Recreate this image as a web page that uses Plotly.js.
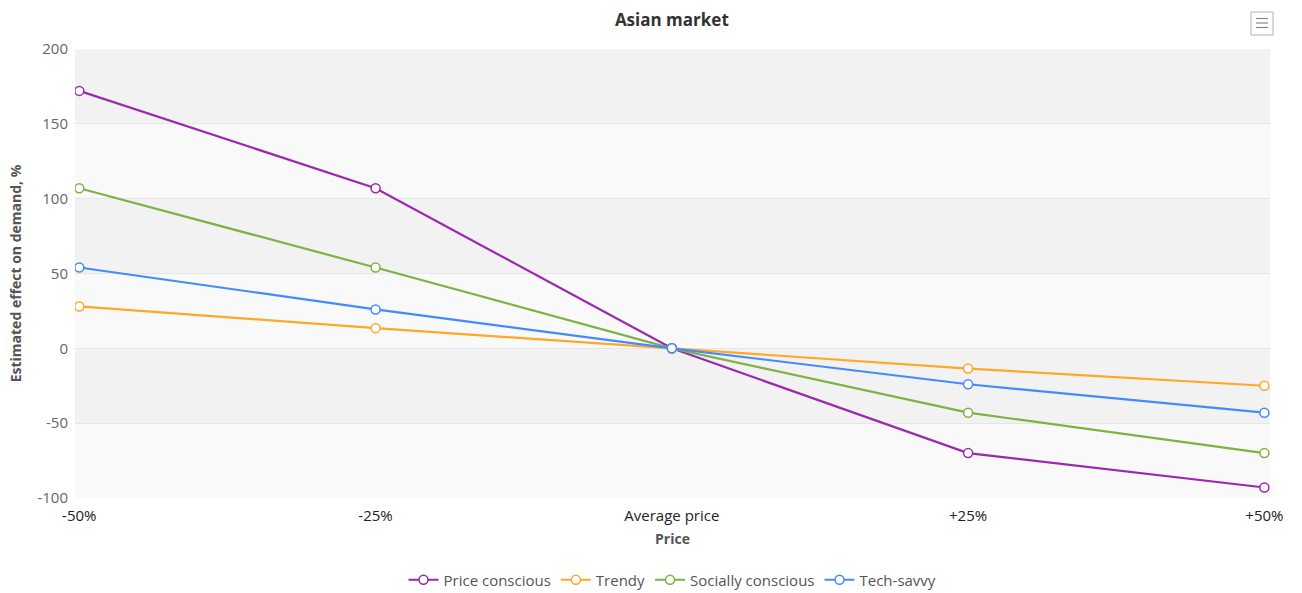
<!DOCTYPE html>
<html>
<head>
<meta charset="utf-8">
<script src="https://cdn.plot.ly/plotly-3.0.1.min.js"></script>
<style>html,body{margin:0;padding:0;background:#fff}#chart{width:1302px;height:593px}</style>
</head>
<body>
<div id="chart"></div>
<script>
const categories = ["-50%", "-25%", "Average price", "+25%", "+50%"];
const priceConscious = [172, 107, 0, -70, -93];
const trendy = [28, 13.5, 0, -13.5, -25];
const sociallyConscious = [107, 54, 0, -43, -70];
const techSavvy = [54, 26, 0, -24, -43];
const seriesNames = ["Price conscious", "Trendy", "Socially conscious", "Tech-savvy"];
const seriesColors = ["#9c27b0", "#ffa726", "#7cb342", "#448aff"];
const yTicks = [-100, -50, 0, 50, 100, 150, 200];
const yTickText = ["-100", "-50", "0", "50", "100", "150", "200"];

const allSeries = [priceConscious, trendy, sociallyConscious, techSavvy];
const traces = allSeries.map((vals, i) => ({
  type: "scatter",
  mode: "lines+markers",
  name: seriesNames[i],
  x: categories,
  y: vals,
  line: {color: seriesColors[i], width: 2.2},
  marker: {symbol: "circle", size: 9, color: "#ffffff", line: {color: seriesColors[i], width: 1.5}},
  hoverinfo: "x+y+name"
}));
const shapes = [];
for (let k = 0; k < yTicks.length - 1; k++) {
  shapes.push({
    type: "rect", xref: "paper", yref: "y", x0: 0, x1: 1,
    y0: yTicks[k], y1: yTicks[k + 1],
    fillcolor: (k % 2 === 0) ? "#f9f9f9" : "#f2f2f2",
    line: {width: 0}, layer: "below"
  });
}
// menu icon
shapes.push({type: "rect", xref: "paper", yref: "paper", x0: (1251 - 75) / 1195, x1: (1273 - 75) / 1195,
  y0: (498 - 35) / 449, y1: (498 - 12) / 449, line: {color: "#b0b0b0", width: 1}, fillcolor: "rgba(0,0,0,0)"});
[18.5, 23, 27.5].forEach(yy => shapes.push({type: "line", xref: "paper", yref: "paper",
  x0: (1256 - 75) / 1195, x1: (1268 - 75) / 1195, y0: (498 - yy) / 449, y1: (498 - yy) / 449,
  line: {color: "#888", width: 1.2}}));

const layout = {
  width: 1302, height: 593,
  margin: {l: 75, r: 32, t: 49, b: 95},
  paper_bgcolor: "#ffffff",
  plot_bgcolor: "#ffffff",
  font: {family: "Open Sans, sans-serif", color: "#333"},
  title: {text: "<b>Asian market</b>", x: 0.516, xanchor: "center", y: 0.967, yanchor: "middle",
    font: {size: 17, color: "#333"}},
  xaxis: {
    type: "category", range: [-0.0145, 4.019],
    showgrid: false, zeroline: false, showline: false,
    ticks: "", ticklabelstandoff: 7, tickfont: {size: 15, color: "#222"},
    title: {text: "<b>Price</b>", font: {size: 14, color: "#555"}, standoff: 10},
    fixedrange: true, automargin: false
  },
  yaxis: {
    range: [-100, 200], tickvals: yTicks, ticktext: yTickText, showgrid: true, gridcolor: "#e6e6e6", gridwidth: 1,
    zeroline: false, showline: false, ticks: "", ticklabelstandoff: 6, tickfont: {size: 15, color: "#666"},
    title: {text: "<b>Estimated effect on demand, %</b>", font: {size: 14, color: "#555"}, standoff: 12},
    fixedrange: true, automargin: false
  },
  legend: {orientation: "h", x: 0.5, xanchor: "center", yref: "container", y: (593 - 580) / 593, yanchor: "middle",
    font: {size: 15, color: "#555"}},
  shapes: shapes,
  showlegend: true
};

Plotly.newPlot("chart", traces, layout, {displayModeBar: false, responsive: false});
</script>
</body>
</html>
